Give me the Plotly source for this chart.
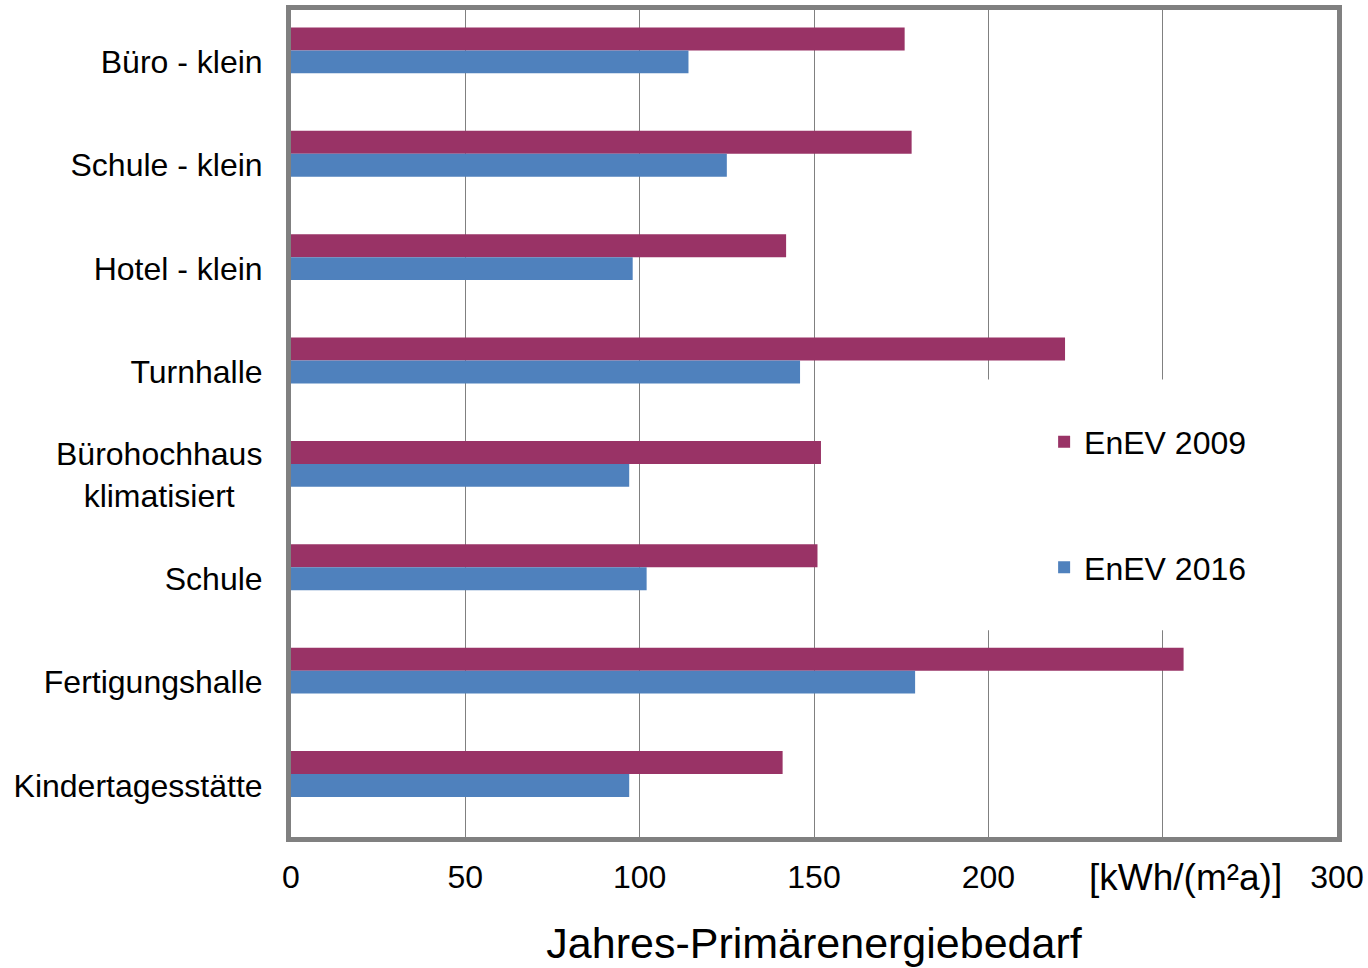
import plotly.graph_objects as go

# Gebäudetypen (von oben nach unten)
categories = [
    "Büro - klein",
    "Schule - klein",
    "Hotel - klein",
    "Turnhalle",
    "Bürohochhaus klimatisiert",
    "Schule",
    "Fertigungshalle",
    "Kindertagesstätte",
]
# Jahres-Primärenergiebedarf in kWh/(m²a)
enev_2009 = [176, 178, 142, 222, 152, 151, 256, 141]
enev_2016 = [114, 125, 98, 146, 97, 102, 179, 97]

x_ticks = [0, 50, 100, 150, 200, 250, 300]
x_ticktext = ["0", "50", "100", "150", "200", "", "300"]
unit_label = "[kWh/(m²a)]"
x_title = "Jahres-Primärenergiebedarf"

FONT = "Liberation Sans, Arial, sans-serif"
C2009 = "#993366"
C2016 = "#4F81BD"

y_ticktext = [c if c != "Bürohochhaus klimatisiert" else "" for c in categories]

fig = go.Figure()
fig.add_trace(go.Bar(
    name="EnEV 2009", y=categories, x=enev_2009, orientation="h",
    marker=dict(color=C2009, line=dict(width=0)),
    width=0.222, offset=-0.331, legendgroup="a",
))
fig.add_trace(go.Bar(
    name="EnEV 2016", y=categories, x=enev_2016, orientation="h",
    marker=dict(color=C2016, line=dict(width=0)),
    width=0.222, offset=-0.109, legendgroup="b",
))

# weiße Fläche hinter der Legende (unterbricht die Gitterlinien)
fig.add_shape(
    type="rect", xref="x", yref="paper",
    x0=197, x1=262, y0=(838 - 631) / 828, y1=(838 - 380) / 828,
    fillcolor="white", line=dict(width=0), layer="above",
)

# zweizeilige, zentrierte Kategorie-Beschriftung
fig.add_annotation(
    text="Bürohochhaus<br>klimatisiert", xref="paper", yref="y",
    x=0, y="Bürohochhaus klimatisiert", xanchor="right", yanchor="middle",
    xshift=-27, align="center", showarrow=False,
    font=dict(family=FONT, size=32, color="black"),
)

# Einheit an der Stelle der Teilstrichbeschriftung 250
fig.add_annotation(
    text=unit_label, xref="x", yref="paper",
    x=256.5, y=(838 - 879) / 828, xanchor="center", yanchor="middle",
    showarrow=False, font=dict(family=FONT, size=37, color="black"),
)

fig.update_layout(
    width=1368, height=968,
    margin=dict(l=291, r=31, t=10, b=131),
    paper_bgcolor="white", plot_bgcolor="white",
    font=dict(family=FONT, size=32, color="black"),
    barmode="overlay",
    showlegend=True,
    legend=dict(
        x=0.72, y=(838 - 505.5) / 828, xanchor="left", yanchor="middle",
        bgcolor="rgba(0,0,0,0)", borderwidth=0,
        font=dict(family=FONT, size=32, color="black"),
        tracegroupgap=81, traceorder="grouped",
    ),
    xaxis=dict(
        range=[0, 300], tickvals=x_ticks, ticktext=x_ticktext,
        automargin=False,
        showgrid=True, gridcolor="#808080", gridwidth=1,
        showline=True, mirror=True, linecolor="#808080", linewidth=5,
        ticks="", zeroline=False, ticklabelstandoff=8,
        tickfont=dict(family=FONT, size=32, color="black"),
        title=dict(text=x_title, font=dict(family=FONT, size=43, color="black"), standoff=35),
    ),
    yaxis=dict(
        type="category", categoryorder="array", categoryarray=categories,
        tickvals=categories, ticktext=y_ticktext,
        range=[7.5, -0.5], automargin=False,
        showgrid=False, showline=True, mirror=True,
        linecolor="#808080", linewidth=5, ticks="", ticklabelstandoff=17,
        zeroline=False,
    ),
)

fig.write_html("out.html")
